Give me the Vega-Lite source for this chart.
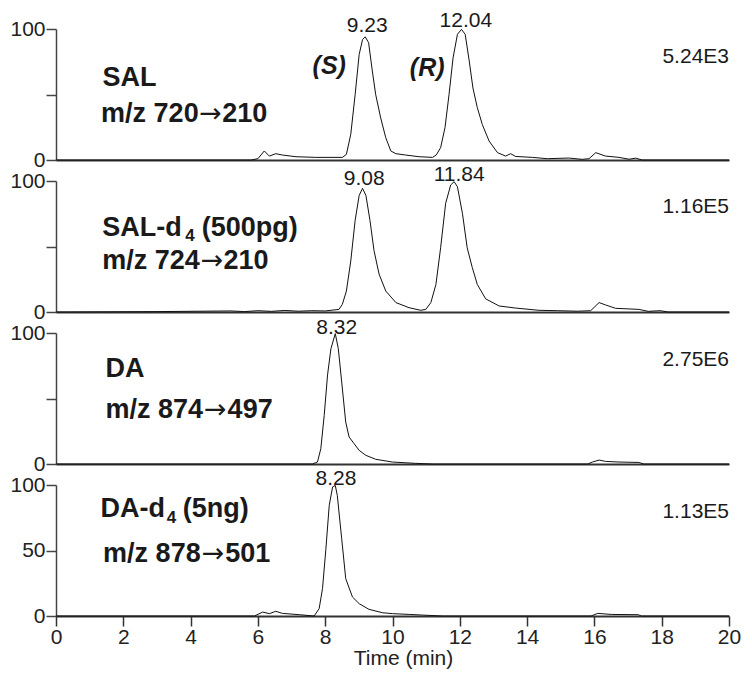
{
  "$schema": "https://vega.github.io/schema/vega-lite/v6.json",
  "padding": {"left": 9, "top": 10, "right": 5, "bottom": 5},
  "bounds": "flush",
  "spacing": 21,
  "config": {
    "font": "Liberation Sans",
    "view": {"stroke": null},
    "axis": {"grid": false, "labelColor": "#222", "titleColor": "#222", "labelFont": "Liberation Sans", "titleFont": "Liberation Sans"}
  },
  "datasets": {
    "trace": [
      {"panel": "SAL", "t": 0, "v": 0}, {"panel": "SAL", "t": 5.8, "v": 0}, {"panel": "SAL", "t": 6.0, "v": 1}, {"panel": "SAL", "t": 6.19, "v": 6.9}, {"panel": "SAL", "t": 6.34, "v": 3}, {"panel": "SAL", "t": 6.53, "v": 4.8}, {"panel": "SAL", "t": 6.73, "v": 3.8}, {"panel": "SAL", "t": 7.13, "v": 2.5}, {"panel": "SAL", "t": 7.72, "v": 2}, {"panel": "SAL", "t": 8.51, "v": 2}, {"panel": "SAL", "t": 8.63, "v": 4.3}, {"panel": "SAL", "t": 8.76, "v": 19.6}, {"panel": "SAL", "t": 8.89, "v": 50}, {"panel": "SAL", "t": 9.01, "v": 80.6}, {"panel": "SAL", "t": 9.11, "v": 92}, {"panel": "SAL", "t": 9.19, "v": 94}, {"panel": "SAL", "t": 9.29, "v": 89.6}, {"panel": "SAL", "t": 9.40, "v": 68}, {"panel": "SAL", "t": 9.50, "v": 50}, {"panel": "SAL", "t": 9.65, "v": 32}, {"panel": "SAL", "t": 9.80, "v": 17}, {"panel": "SAL", "t": 9.95, "v": 6.9}, {"panel": "SAL", "t": 10.10, "v": 4.8}, {"panel": "SAL", "t": 10.39, "v": 3.8}, {"panel": "SAL", "t": 10.79, "v": 2.5}, {"panel": "SAL", "t": 11.19, "v": 2}, {"panel": "SAL", "t": 11.30, "v": 3.8}, {"panel": "SAL", "t": 11.43, "v": 9.4}, {"panel": "SAL", "t": 11.56, "v": 24.7}, {"panel": "SAL", "t": 11.68, "v": 50}, {"panel": "SAL", "t": 11.80, "v": 78}, {"panel": "SAL", "t": 11.93, "v": 96}, {"panel": "SAL", "t": 12.05, "v": 99.7}, {"panel": "SAL", "t": 12.16, "v": 96}, {"panel": "SAL", "t": 12.28, "v": 75.6}, {"panel": "SAL", "t": 12.39, "v": 55}, {"panel": "SAL", "t": 12.52, "v": 40}, {"panel": "SAL", "t": 12.67, "v": 27}, {"panel": "SAL", "t": 12.87, "v": 14.5}, {"panel": "SAL", "t": 13.12, "v": 5.6}, {"panel": "SAL", "t": 13.36, "v": 3}, {"panel": "SAL", "t": 13.51, "v": 4.8}, {"panel": "SAL", "t": 13.66, "v": 2.7}, {"panel": "SAL", "t": 14.16, "v": 2}, {"panel": "SAL", "t": 14.6, "v": 1}, {"panel": "SAL", "t": 15.24, "v": 1.5}, {"panel": "SAL", "t": 15.64, "v": 0.5}, {"panel": "SAL", "t": 15.84, "v": 1}, {"panel": "SAL", "t": 16.04, "v": 5.6}, {"panel": "SAL", "t": 16.33, "v": 3}, {"panel": "SAL", "t": 16.73, "v": 2}, {"panel": "SAL", "t": 17.03, "v": 0.6}, {"panel": "SAL", "t": 17.23, "v": 1.4}, {"panel": "SAL", "t": 17.42, "v": 0}, {"panel": "SAL", "t": 20, "v": 0},

      {"panel": "SALd4", "t": 0, "v": 0}, {"panel": "SALd4", "t": 3, "v": 0.3}, {"panel": "SALd4", "t": 5.2, "v": 0.8}, {"panel": "SALd4", "t": 5.6, "v": 0.3}, {"panel": "SALd4", "t": 6.0, "v": 1}, {"panel": "SALd4", "t": 6.4, "v": 0.5}, {"panel": "SALd4", "t": 6.8, "v": 1.2}, {"panel": "SALd4", "t": 7.2, "v": 0.6}, {"panel": "SALd4", "t": 7.6, "v": 1}, {"panel": "SALd4", "t": 8.0, "v": 0.8}, {"panel": "SALd4", "t": 8.41, "v": 2}, {"panel": "SALd4", "t": 8.51, "v": 5.9}, {"panel": "SALd4", "t": 8.63, "v": 16}, {"panel": "SALd4", "t": 8.76, "v": 39}, {"panel": "SALd4", "t": 8.89, "v": 70}, {"panel": "SALd4", "t": 9.01, "v": 89}, {"panel": "SALd4", "t": 9.11, "v": 94.4}, {"panel": "SALd4", "t": 9.21, "v": 89}, {"panel": "SALd4", "t": 9.33, "v": 70}, {"panel": "SALd4", "t": 9.45, "v": 47}, {"panel": "SALd4", "t": 9.60, "v": 29}, {"panel": "SALd4", "t": 9.80, "v": 16}, {"panel": "SALd4", "t": 10.10, "v": 7.2}, {"panel": "SALd4", "t": 10.49, "v": 3.3}, {"panel": "SALd4", "t": 10.84, "v": 1.3}, {"panel": "SALd4", "t": 10.99, "v": 2}, {"panel": "SALd4", "t": 11.14, "v": 7.2}, {"panel": "SALd4", "t": 11.29, "v": 21}, {"panel": "SALd4", "t": 11.43, "v": 49}, {"panel": "SALd4", "t": 11.58, "v": 83}, {"panel": "SALd4", "t": 11.73, "v": 97}, {"panel": "SALd4", "t": 11.83, "v": 99.5}, {"panel": "SALd4", "t": 11.93, "v": 95.6}, {"panel": "SALd4", "t": 12.08, "v": 75}, {"panel": "SALd4", "t": 12.22, "v": 49}, {"panel": "SALd4", "t": 12.37, "v": 34}, {"panel": "SALd4", "t": 12.52, "v": 21}, {"panel": "SALd4", "t": 12.77, "v": 10}, {"panel": "SALd4", "t": 13.17, "v": 4.6}, {"panel": "SALd4", "t": 13.66, "v": 3}, {"panel": "SALd4", "t": 14.35, "v": 1.3}, {"panel": "SALd4", "t": 14.9, "v": 1}, {"panel": "SALd4", "t": 15.5, "v": 0.6}, {"panel": "SALd4", "t": 15.89, "v": 1}, {"panel": "SALd4", "t": 16.14, "v": 7.2}, {"panel": "SALd4", "t": 16.33, "v": 5.4}, {"panel": "SALd4", "t": 16.63, "v": 2.8}, {"panel": "SALd4", "t": 17.32, "v": 2}, {"panel": "SALd4", "t": 17.6, "v": 0.5}, {"panel": "SALd4", "t": 17.95, "v": 1}, {"panel": "SALd4", "t": 18.2, "v": 0}, {"panel": "SALd4", "t": 20, "v": 0},

      {"panel": "DA", "t": 0, "v": 0}, {"panel": "DA", "t": 7.62, "v": 0}, {"panel": "DA", "t": 7.77, "v": 1.5}, {"panel": "DA", "t": 7.87, "v": 11.7}, {"panel": "DA", "t": 7.97, "v": 37}, {"panel": "DA", "t": 8.07, "v": 68}, {"panel": "DA", "t": 8.17, "v": 88}, {"panel": "DA", "t": 8.30, "v": 99.5}, {"panel": "DA", "t": 8.39, "v": 88}, {"panel": "DA", "t": 8.49, "v": 62.6}, {"panel": "DA", "t": 8.61, "v": 32}, {"panel": "DA", "t": 8.71, "v": 20.6}, {"panel": "DA", "t": 8.86, "v": 15.5}, {"panel": "DA", "t": 9.01, "v": 10.4}, {"panel": "DA", "t": 9.21, "v": 6.6}, {"panel": "DA", "t": 9.50, "v": 3.6}, {"panel": "DA", "t": 10.0, "v": 1.5}, {"panel": "DA", "t": 10.69, "v": 0.5}, {"panel": "DA", "t": 11.2, "v": 0}, {"panel": "DA", "t": 15.8, "v": 0}, {"panel": "DA", "t": 15.94, "v": 1.5}, {"panel": "DA", "t": 16.14, "v": 3}, {"panel": "DA", "t": 16.33, "v": 2}, {"panel": "DA", "t": 16.73, "v": 1.5}, {"panel": "DA", "t": 17.32, "v": 1.2}, {"panel": "DA", "t": 17.47, "v": 0}, {"panel": "DA", "t": 20, "v": 0},

      {"panel": "DAd4", "t": 0, "v": 0}, {"panel": "DAd4", "t": 5.9, "v": 0}, {"panel": "DAd4", "t": 6.14, "v": 3}, {"panel": "DAd4", "t": 6.34, "v": 1.8}, {"panel": "DAd4", "t": 6.53, "v": 3.6}, {"panel": "DAd4", "t": 6.73, "v": 2}, {"panel": "DAd4", "t": 7.23, "v": 1}, {"panel": "DAd4", "t": 7.67, "v": 0}, {"panel": "DAd4", "t": 7.82, "v": 5.6}, {"panel": "DAd4", "t": 7.92, "v": 20.9}, {"panel": "DAd4", "t": 8.02, "v": 51}, {"panel": "DAd4", "t": 8.12, "v": 84.5}, {"panel": "DAd4", "t": 8.22, "v": 98.5}, {"panel": "DAd4", "t": 8.30, "v": 99.7}, {"panel": "DAd4", "t": 8.36, "v": 92}, {"panel": "DAd4", "t": 8.49, "v": 59}, {"panel": "DAd4", "t": 8.61, "v": 28.5}, {"panel": "DAd4", "t": 8.81, "v": 14.5}, {"panel": "DAd4", "t": 9.01, "v": 9.4}, {"panel": "DAd4", "t": 9.30, "v": 5.1}, {"panel": "DAd4", "t": 9.70, "v": 2.5}, {"panel": "DAd4", "t": 10.0, "v": 1.8}, {"panel": "DAd4", "t": 10.5, "v": 1.2}, {"panel": "DAd4", "t": 10.89, "v": 0.7}, {"panel": "DAd4", "t": 11.5, "v": 0}, {"panel": "DAd4", "t": 15.9, "v": 0}, {"panel": "DAd4", "t": 16.1, "v": 2}, {"panel": "DAd4", "t": 16.5, "v": 1.2}, {"panel": "DAd4", "t": 17.3, "v": 1}, {"panel": "DAd4", "t": 17.4, "v": 0}, {"panel": "DAd4", "t": 20, "v": 0}
    ],
    "notes": [
      {"panel": "SAL", "role": "name", "t": 1.385, "v": 62.6, "label": "SAL"},
      {"panel": "SAL", "role": "name", "t": 1.34, "v": 35, "label": "m/z 720"},
      {"panel": "SAL", "role": "arrow", "t": 4.26, "v": 35, "label": "→"},
      {"panel": "SAL", "role": "name", "t": 4.94, "v": 35, "label": "210"},
      {"panel": "SAL", "role": "isomer", "t": 8.12, "v": 72, "label": "(S)"},
      {"panel": "SAL", "role": "isomer", "t": 11.03, "v": 70, "label": "(R)"},
      {"panel": "SAL", "role": "peak", "t": 9.25, "v": 102, "label": "9.23"},
      {"panel": "SAL", "role": "peak", "t": 12.18, "v": 106, "label": "12.04"},
      {"panel": "SAL", "role": "scale", "t": 20, "v": 79, "label": "5.24E3"},

      {"panel": "SALd4", "role": "name", "t": 1.375, "v": 64, "label": "SAL-d"},
      {"panel": "SALd4", "role": "sub", "t": 3.84, "v": 58.2, "label": "4"},
      {"panel": "SALd4", "role": "name", "t": 4.33, "v": 64, "label": "(500pg)"},
      {"panel": "SALd4", "role": "name", "t": 1.375, "v": 39, "label": "m/z 724"},
      {"panel": "SALd4", "role": "arrow", "t": 4.30, "v": 39, "label": "→"},
      {"panel": "SALd4", "role": "name", "t": 4.98, "v": 39, "label": "210"},
      {"panel": "SALd4", "role": "peak", "t": 9.16, "v": 101.8, "label": "9.08"},
      {"panel": "SALd4", "role": "peak", "t": 11.98, "v": 104.6, "label": "11.84"},
      {"panel": "SALd4", "role": "scale", "t": 20, "v": 80, "label": "1.16E5"},

      {"panel": "DA", "role": "name", "t": 1.47, "v": 72.5, "label": "DA"},
      {"panel": "DA", "role": "name", "t": 1.47, "v": 41, "label": "m/z 874"},
      {"panel": "DA", "role": "arrow", "t": 4.40, "v": 41, "label": "→"},
      {"panel": "DA", "role": "name", "t": 5.10, "v": 41, "label": "497"},
      {"panel": "DA", "role": "peak", "t": 8.34, "v": 103.8, "label": "8.32"},
      {"panel": "DA", "role": "scale", "t": 20, "v": 79.2, "label": "2.75E6"},

      {"panel": "DAd4", "role": "name", "t": 1.32, "v": 81.9, "label": "DA-d"},
      {"panel": "DAd4", "role": "sub", "t": 3.29, "v": 74.5, "label": "4"},
      {"panel": "DAd4", "role": "name", "t": 3.77, "v": 81.9, "label": "(5ng)"},
      {"panel": "DAd4", "role": "name", "t": 1.40, "v": 47.6, "label": "m/z 878"},
      {"panel": "DAd4", "role": "arrow", "t": 4.33, "v": 47.6, "label": "→"},
      {"panel": "DAd4", "role": "name", "t": 5.03, "v": 47.6, "label": "501"},
      {"panel": "DAd4", "role": "peak", "t": 8.32, "v": 104.6, "label": "8.28"},
      {"panel": "DAd4", "role": "scale", "t": 20, "v": 79.4, "label": "1.13E5"}
    ]
  },
  "vconcat": [
    {
      "width": 673, "height": 131,
      "layer": [
        {"data": {"name": "trace"}, "transform": [{"filter": "datum.panel == 'SAL'"}],
         "mark": {"type": "line", "color": "#111", "strokeWidth": 1},
         "encoding": {
           "x": {"field": "t", "type": "quantitative", "scale": {"domain": [0, 20], "nice": false}, "axis": {"title": null, "labels": false, "ticks": false, "domainColor": "#333", "domainWidth": 2.2}},
           "y": {"field": "v", "type": "quantitative", "scale": {"domain": [0, 100], "nice": false}, "axis": {"title": null, "values": [0, 50, 100], "labelExpr": "datum.value == 50 ? '' : datum.label", "tickSize": 10, "tickWidth": 1.5, "tickColor": "#444", "domainColor": "#444", "domainWidth": 1.5, "labelFontSize": 21, "labelPadding": 1}}
         }},
        {"data": {"name": "notes"}, "transform": [{"filter": "datum.panel == 'SAL' && datum.role == 'name'"}],
         "mark": {"type": "text", "align": "left", "baseline": "middle", "fontWeight": "bold", "fontSize": 27, "color": "#1a1a1a"},
         "encoding": {"x": {"field": "t", "type": "quantitative"}, "y": {"field": "v", "type": "quantitative"}, "text": {"field": "label"}}},
        {"data": {"name": "notes"}, "transform": [{"filter": "datum.panel == 'SAL' && datum.role == 'arrow'"}],
         "mark": {"type": "text", "align": "left", "baseline": "middle", "font": "DejaVu Sans", "fontSize": 27, "color": "#1a1a1a"},
         "encoding": {"x": {"field": "t", "type": "quantitative"}, "y": {"field": "v", "type": "quantitative"}, "text": {"field": "label"}}},
        {"data": {"name": "notes"}, "transform": [{"filter": "datum.panel == 'SAL' && datum.role == 'isomer'"}],
         "mark": {"type": "text", "align": "center", "baseline": "middle", "fontWeight": "bold", "fontStyle": "italic", "fontSize": 25, "color": "#1a1a1a"},
         "encoding": {"x": {"field": "t", "type": "quantitative"}, "y": {"field": "v", "type": "quantitative"}, "text": {"field": "label"}}},
        {"data": {"name": "notes"}, "transform": [{"filter": "datum.panel == 'SAL' && datum.role == 'peak'"}],
         "mark": {"type": "text", "align": "center", "baseline": "middle", "fontSize": 21, "color": "#1a1a1a"},
         "encoding": {"x": {"field": "t", "type": "quantitative"}, "y": {"field": "v", "type": "quantitative"}, "text": {"field": "label"}}},
        {"data": {"name": "notes"}, "transform": [{"filter": "datum.panel == 'SAL' && datum.role == 'scale'"}],
         "mark": {"type": "text", "align": "right", "baseline": "middle", "fontSize": 21, "color": "#1a1a1a"},
         "encoding": {"x": {"field": "t", "type": "quantitative"}, "y": {"field": "v", "type": "quantitative"}, "text": {"field": "label"}}}
      ]
    },
    {
      "width": 673, "height": 131,
      "layer": [
        {"data": {"name": "trace"}, "transform": [{"filter": "datum.panel == 'SALd4'"}],
         "mark": {"type": "line", "color": "#111", "strokeWidth": 1},
         "encoding": {
           "x": {"field": "t", "type": "quantitative", "scale": {"domain": [0, 20], "nice": false}, "axis": {"title": null, "labels": false, "ticks": false, "domainColor": "#333", "domainWidth": 2.2}},
           "y": {"field": "v", "type": "quantitative", "scale": {"domain": [0, 100], "nice": false}, "axis": {"title": null, "values": [0, 50, 100], "labelExpr": "datum.value == 50 ? '' : datum.label", "tickSize": 10, "tickWidth": 1.5, "tickColor": "#444", "domainColor": "#444", "domainWidth": 1.5, "labelFontSize": 21, "labelPadding": 1}}
         }},
        {"data": {"name": "notes"}, "transform": [{"filter": "datum.panel == 'SALd4' && datum.role == 'name'"}],
         "mark": {"type": "text", "align": "left", "baseline": "middle", "fontWeight": "bold", "fontSize": 27, "color": "#1a1a1a"},
         "encoding": {"x": {"field": "t", "type": "quantitative"}, "y": {"field": "v", "type": "quantitative"}, "text": {"field": "label"}}},
        {"data": {"name": "notes"}, "transform": [{"filter": "datum.panel == 'SALd4' && datum.role == 'arrow'"}],
         "mark": {"type": "text", "align": "left", "baseline": "middle", "font": "DejaVu Sans", "fontSize": 27, "color": "#1a1a1a"},
         "encoding": {"x": {"field": "t", "type": "quantitative"}, "y": {"field": "v", "type": "quantitative"}, "text": {"field": "label"}}},
        {"data": {"name": "notes"}, "transform": [{"filter": "datum.panel == 'SALd4' && datum.role == 'sub'"}],
         "mark": {"type": "text", "align": "left", "baseline": "middle", "fontWeight": "bold", "fontSize": 17, "color": "#1a1a1a"},
         "encoding": {"x": {"field": "t", "type": "quantitative"}, "y": {"field": "v", "type": "quantitative"}, "text": {"field": "label"}}},
        {"data": {"name": "notes"}, "transform": [{"filter": "datum.panel == 'SALd4' && datum.role == 'peak'"}],
         "mark": {"type": "text", "align": "center", "baseline": "middle", "fontSize": 21, "color": "#1a1a1a"},
         "encoding": {"x": {"field": "t", "type": "quantitative"}, "y": {"field": "v", "type": "quantitative"}, "text": {"field": "label"}}},
        {"data": {"name": "notes"}, "transform": [{"filter": "datum.panel == 'SALd4' && datum.role == 'scale'"}],
         "mark": {"type": "text", "align": "right", "baseline": "middle", "fontSize": 21, "color": "#1a1a1a"},
         "encoding": {"x": {"field": "t", "type": "quantitative"}, "y": {"field": "v", "type": "quantitative"}, "text": {"field": "label"}}}
      ]
    },
    {
      "width": 673, "height": 131,
      "layer": [
        {"data": {"name": "trace"}, "transform": [{"filter": "datum.panel == 'DA'"}],
         "mark": {"type": "line", "color": "#111", "strokeWidth": 1},
         "encoding": {
           "x": {"field": "t", "type": "quantitative", "scale": {"domain": [0, 20], "nice": false}, "axis": {"title": null, "labels": false, "ticks": false, "domainColor": "#333", "domainWidth": 2.2}},
           "y": {"field": "v", "type": "quantitative", "scale": {"domain": [0, 100], "nice": false}, "axis": {"title": null, "values": [0, 50, 100], "labelExpr": "datum.value == 50 ? '' : datum.label", "tickSize": 10, "tickWidth": 1.5, "tickColor": "#444", "domainColor": "#444", "domainWidth": 1.5, "labelFontSize": 21, "labelPadding": 1}}
         }},
        {"data": {"name": "notes"}, "transform": [{"filter": "datum.panel == 'DA' && datum.role == 'name'"}],
         "mark": {"type": "text", "align": "left", "baseline": "middle", "fontWeight": "bold", "fontSize": 27, "color": "#1a1a1a"},
         "encoding": {"x": {"field": "t", "type": "quantitative"}, "y": {"field": "v", "type": "quantitative"}, "text": {"field": "label"}}},
        {"data": {"name": "notes"}, "transform": [{"filter": "datum.panel == 'DA' && datum.role == 'arrow'"}],
         "mark": {"type": "text", "align": "left", "baseline": "middle", "font": "DejaVu Sans", "fontSize": 27, "color": "#1a1a1a"},
         "encoding": {"x": {"field": "t", "type": "quantitative"}, "y": {"field": "v", "type": "quantitative"}, "text": {"field": "label"}}},
        {"data": {"name": "notes"}, "transform": [{"filter": "datum.panel == 'DA' && datum.role == 'peak'"}],
         "mark": {"type": "text", "align": "center", "baseline": "middle", "fontSize": 21, "color": "#1a1a1a"},
         "encoding": {"x": {"field": "t", "type": "quantitative"}, "y": {"field": "v", "type": "quantitative"}, "text": {"field": "label"}}},
        {"data": {"name": "notes"}, "transform": [{"filter": "datum.panel == 'DA' && datum.role == 'scale'"}],
         "mark": {"type": "text", "align": "right", "baseline": "middle", "fontSize": 21, "color": "#1a1a1a"},
         "encoding": {"x": {"field": "t", "type": "quantitative"}, "y": {"field": "v", "type": "quantitative"}, "text": {"field": "label"}}}
      ]
    },
    {
      "width": 673, "height": 131,
      "layer": [
        {"data": {"name": "trace"}, "transform": [{"filter": "datum.panel == 'DAd4'"}],
         "mark": {"type": "line", "color": "#111", "strokeWidth": 1},
         "encoding": {
           "x": {"field": "t", "type": "quantitative", "scale": {"domain": [0, 20], "nice": false},
                 "axis": {"title": "Time (min)", "values": [0, 0.5, 1, 1.5, 2, 2.5, 3, 3.5, 4, 4.5, 5, 5.5, 6, 6.5, 7, 7.5, 8, 8.5, 9, 9.5, 10, 10.5, 11, 11.5, 12, 12.5, 13, 13.5, 14, 14.5, 15, 15.5, 16, 16.5, 17, 17.5, 18, 18.5, 19, 19.5, 20],
                          "labelExpr": "datum.value % 2 == 0 ? datum.label : ''", "labelFlush": false, "labelOverlap": false,
                          "tickSize": {"condition": {"test": "datum.value % 2 == 0", "value": 10}, "value": 8},
                          "tickWidth": 1.5, "tickColor": "#333", "domainColor": "#333", "domainWidth": 2.2,
                          "labelFontSize": 21, "labelPadding": 0, "titleFontSize": 21, "titleFontWeight": "normal", "titlePadding": 0, "titleX": 347}},
           "y": {"field": "v", "type": "quantitative", "scale": {"domain": [0, 100], "nice": false}, "axis": {"title": null, "values": [0, 50, 100], "tickSize": 10, "tickWidth": 1.5, "tickColor": "#444", "domainColor": "#444", "domainWidth": 1.5, "labelFontSize": 21, "labelPadding": 1}}
         }},
        {"data": {"name": "notes"}, "transform": [{"filter": "datum.panel == 'DAd4' && datum.role == 'name'"}],
         "mark": {"type": "text", "align": "left", "baseline": "middle", "fontWeight": "bold", "fontSize": 27, "color": "#1a1a1a"},
         "encoding": {"x": {"field": "t", "type": "quantitative"}, "y": {"field": "v", "type": "quantitative"}, "text": {"field": "label"}}},
        {"data": {"name": "notes"}, "transform": [{"filter": "datum.panel == 'DAd4' && datum.role == 'arrow'"}],
         "mark": {"type": "text", "align": "left", "baseline": "middle", "font": "DejaVu Sans", "fontSize": 27, "color": "#1a1a1a"},
         "encoding": {"x": {"field": "t", "type": "quantitative"}, "y": {"field": "v", "type": "quantitative"}, "text": {"field": "label"}}},
        {"data": {"name": "notes"}, "transform": [{"filter": "datum.panel == 'DAd4' && datum.role == 'sub'"}],
         "mark": {"type": "text", "align": "left", "baseline": "middle", "fontWeight": "bold", "fontSize": 17, "color": "#1a1a1a"},
         "encoding": {"x": {"field": "t", "type": "quantitative"}, "y": {"field": "v", "type": "quantitative"}, "text": {"field": "label"}}},
        {"data": {"name": "notes"}, "transform": [{"filter": "datum.panel == 'DAd4' && datum.role == 'peak'"}],
         "mark": {"type": "text", "align": "center", "baseline": "middle", "fontSize": 21, "color": "#1a1a1a"},
         "encoding": {"x": {"field": "t", "type": "quantitative"}, "y": {"field": "v", "type": "quantitative"}, "text": {"field": "label"}}},
        {"data": {"name": "notes"}, "transform": [{"filter": "datum.panel == 'DAd4' && datum.role == 'scale'"}],
         "mark": {"type": "text", "align": "right", "baseline": "middle", "fontSize": 21, "color": "#1a1a1a"},
         "encoding": {"x": {"field": "t", "type": "quantitative"}, "y": {"field": "v", "type": "quantitative"}, "text": {"field": "label"}}}
      ]
    }
  ]
}
